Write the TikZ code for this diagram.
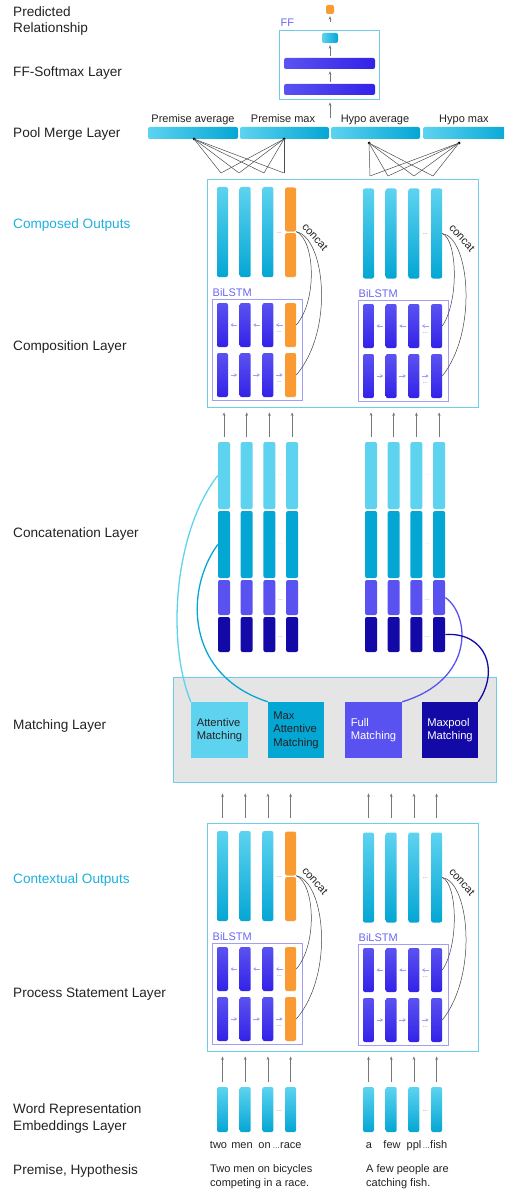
\documentclass[tikz,border=0pt]{standalone}
\usepackage{fontspec}
\setmainfont{Liberation Sans}
\usetikzlibrary{arrows.meta,calc}
\definecolor{cyL}{HTML}{5DD3F0}
\definecolor{cyD}{HTML}{04A6D4}
\definecolor{puL}{HTML}{5A52F0}
\definecolor{puD}{HTML}{3322E8}
\definecolor{navyc}{HTML}{1209A6}
\definecolor{orgc}{HTML}{F99A33}
\definecolor{boxc}{HTML}{6FCDE8}
\definecolor{lstmc}{HTML}{A29EF5}
\definecolor{labc}{HTML}{6A66F0}
\definecolor{outc}{HTML}{1EB0DE}
\definecolor{grayfill}{HTML}{E5E5E5}
\definecolor{txtc}{HTML}{222222}
\definecolor{arrc}{HTML}{777777}
\definecolor{dotc}{HTML}{8A8A8A}
\definecolor{dotcy}{HTML}{B5ECF9}
\definecolor{dotpu}{HTML}{A29EF5}

\tikzset{
  layerlab/.style={anchor=base west, inner sep=0pt, font=\fontsize{13.6}{16}\selectfont, text=txtc},
  smalltxt/.style={inner sep=0pt, font=\fontsize{11}{14}\selectfont, text=txtc},
  colv/.style={rectangle, rounded corners=2pt, minimum width=11pt, minimum height=90pt, inner sep=0pt, top color=cyL, bottom color=cyD, draw=none},
  colo/.style={rectangle, rounded corners=2pt, minimum width=11pt, minimum height=44pt, inner sep=0pt, fill=orgc},
  lstm/.style={rectangle, rounded corners=2pt, minimum width=11pt, minimum height=44pt, inner sep=0pt, top color=puL, bottom color=puD},
  lstmo/.style={rectangle, rounded corners=2pt, minimum width=11pt, minimum height=44pt, inner sep=0pt, fill=orgc},
  outbox/.style={draw=boxc, line width=0.8pt, rectangle, inner sep=0pt},
  lstmbox/.style={draw=lstmc, line width=0.8pt, rectangle, inner sep=0pt},
  arrowg/.style={draw=arrc, line width=0.6pt, -{Stealth[length=3.5pt,width=2.8pt]}},
  lstmarr/.style={draw=lstmc, line width=0.9pt, -{Stealth[length=3pt,width=3.6pt]}},
  concatline/.style={draw=black!75, line width=0.5pt},
  dotlab/.style={inner sep=0pt, font=\fontsize{6.5}{6.5}\selectfont, text=dotc},
  seg/.style={rectangle, rounded corners=2pt, minimum width=12pt, inner sep=0pt},
  matchbox/.style={rectangle, minimum width=57pt, minimum height=56pt, inner sep=0pt, align=left, font=\fontsize{11.2}{13.5}\selectfont},
  fanline/.style={draw=black!70, line width=0.5pt},
  fandot/.style={circle, fill=black, inner sep=0pt, minimum size=3pt},
  poolbar/.style={rectangle, rounded corners=2pt, minimum height=12pt, inner sep=0pt, left color=cyL, right color=cyD},
}

\newcommand\encblock[2]{%
  \node[outbox, minimum width=271pt, minimum height=228pt] (#2box) at (342.5,293+#1) {};
  \foreach \i in {0,1,2}{
    \node[colv] (#2l\i) at (222.5+22.7*\i, 232+#1) {};
  }
  \node[colo] (#2la) at (290.6, 209.5+#1) {};
  \node[colo] (#2lb) at (290.6, 255+#1) {};
  \foreach \i in {0,1,2,3}{
    \node[colv] (#2r\i) at (368.5+22.7*\i, 233.5+#1) {};
  }
  \node[dotlab] at (279.25, 233+#1) {...};
  \node[dotlab] at (425.25, 234+#1) {...};
  % BiLSTM boxes
  \node[lstmbox, minimum width=90pt, minimum height=101pt] (#2lbox) at (257, 349.5+#1) {};
  \node[lstmbox, minimum width=90pt, minimum height=101pt] (#2rbox) at (403, 350.5+#1) {};
  \node[anchor=base west, inner sep=0pt, font=\fontsize{11}{13}\selectfont, text=labc] at (212.5, 296+#1) {BiLSTM};
  \node[anchor=base west, inner sep=0pt, font=\fontsize{11}{13}\selectfont, text=labc] at (358.5, 297+#1) {BiLSTM};
  \foreach \i in {0,1,2}{
    \node[lstm] (#2tl\i) at (222.5+22.7*\i, 325+#1) {};
    \node[lstm] (#2bl\i) at (222.5+22.7*\i, 375+#1) {};
  }
  \node[lstmo] (#2tl3) at (290.6, 325+#1) {};
  \node[lstmo] (#2bl3) at (290.6, 375+#1) {};
  \foreach \i in {0,1,2,3}{
    \node[lstm] (#2tr\i) at (368.5+22.7*\i, 326+#1) {};
    \node[lstm] (#2br\i) at (368.5+22.7*\i, 376+#1) {};
  }
  \foreach \i/\k in {0/1,1/2,2/3}{
    \draw[lstmarr, shorten <=2.3pt, shorten >=2.3pt] (#2tl\k.west) -- (#2tl\i.east);
    \draw[lstmarr, shorten <=2.3pt, shorten >=2.3pt] (#2bl\i.east) -- (#2bl\k.west);
    \draw[lstmarr, shorten <=2.3pt, shorten >=2.3pt] (#2tr\k.west) -- (#2tr\i.east);
    \draw[lstmarr, shorten <=2.3pt, shorten >=2.3pt] (#2br\i.east) -- (#2br\k.west);
  }
  \node[dotlab] at (279.25, 332+#1) {...};
  \node[dotlab] at (279.25, 382+#1) {...};
  \node[dotlab] at (425.25, 333+#1) {...};
  \node[dotlab] at (425.25, 383+#1) {...};
  % concat curves
  \draw[concatline] (#2la.south east) .. controls +(18.5,8) and +(21.5,-25) .. (#2tl3.east);
  \draw[concatline] (#2la.south east) .. controls +(28.5,6) and +(38.5,-45) .. (#2bl3.east);
  \draw[concatline] (#2r3.east) .. controls +(15,6) and +(17,-25) .. (#2tr3.east);
  \draw[concatline] (#2r3.east) .. controls +(27,4) and +(36,-45) .. (#2br3.east);
  \node[smalltxt, rotate=-48] at (315, 237+#1) {concat};
  \node[smalltxt, rotate=-48] at (462, 238+#1) {concat};
}

\begin{document}
\begin{tikzpicture}[x=1pt,y=-1pt]
\useasboundingbox (0,0) rectangle (504,1193);
\clip (0,0) rectangle (504,1193);

% ---------- left labels ----------
\node[anchor=north west, inner sep=0pt, align=left, font=\fontsize{13.6}{16}\selectfont, text=txtc] (lPred) at (13,6.3) {Predicted\\Relationship};
\node[layerlab] (lFF) at (13,76.8) {FF-Softmax Layer};
\node[layerlab] (lPool) at (13,137.8) {Pool Merge Layer};
\node[layerlab, text=outc] (lComp) at (13,228.8) {Composed Outputs};
\node[layerlab] (lCompL) at (13,350.8) {Composition Layer};
\node[layerlab] (lConc) at (13,537.8) {Concatenation Layer};
\node[layerlab] (lMatch) at (13,729.8) {Matching Layer};
\node[layerlab, text=outc] (lCtx) at (13,883.8) {Contextual Outputs};
\node[layerlab] (lProc) at (13,997.8) {Process Statement Layer};
\node[anchor=north west, inner sep=0pt, align=left, font=\fontsize{13.6}{17}\selectfont, text=txtc] (lWord) at (13,1103.3) {Word Representation\\Embeddings Layer};
\node[layerlab] (lPH) at (13,1174.8) {Premise, Hypothesis};

% ---------- FF softmax ----------
\node[outbox, minimum width=100pt, minimum height=69pt] (ffbox) at (329,64.5) {};
\node[anchor=base west, inner sep=0pt, font=\fontsize{11}{13}\selectfont, text=labc] (fflab) at (280.5,27) {FF};
\node[rectangle, rounded corners=2pt, minimum width=8pt, minimum height=9pt, inner sep=0pt, fill=orgc] (pred) at (330,9.5) {};
\node[rectangle, rounded corners=2pt, minimum width=16pt, minimum height=10pt, inner sep=0pt, left color=cyL, right color=cyD] (soft) at (330,38) {};
\node[rectangle, rounded corners=2pt, minimum width=91pt, minimum height=11pt, inner sep=0pt, left color=puL, right color=puD] (ff1) at (329.5,63.5) {};
\node[rectangle, rounded corners=2pt, minimum width=91pt, minimum height=11pt, inner sep=0pt, left color=puL, right color=puD] (ff2) at (329.5,89.5) {};
\draw[arrowg, shorten <=11pt, shorten >=2pt] (soft.north) -- (pred.south);
\draw[arrowg, shorten <=2pt, shorten >=2pt] (ff1.north -| soft.north) -- (soft.south);
\draw[arrowg, shorten <=2pt, shorten >=2pt] (ff2.north -| soft.north) -- (ff1.south -| soft.north);

% ---------- pool merge ----------
\node[poolbar, minimum width=90pt] (pavg) at (193,133) {};
\node[poolbar, minimum width=89pt] (pmax) at (284.5,133) {};
\node[poolbar, minimum width=89pt] (havg) at (375.5,133) {};
\node[poolbar, minimum width=89pt] (hmax) at (467.5,133) {};
\node[smalltxt, anchor=base] at (193,123) {Premise average};
\node[smalltxt, anchor=base] at (283,123) {Premise max};
\node[smalltxt, anchor=base] at (375,123) {Hypo average};
\node[smalltxt, anchor=base] at (464,123) {Hypo max};
\coordinate (poolup) at (330,118);
\draw[arrowg, shorten >=3pt] (poolup) -- (ffbox.south -| poolup);

\node[fandot] (dpa) at (194,139) {};
\node[fandot] (dpm) at (284,139) {};
\node[fandot] (dha) at (369,143) {};
\node[fandot] (dhm) at (459,143) {};
\coordinate (fl0) at (221,173);
\coordinate (fl1) at (239,173);
\coordinate (fl2) at (264,173);
\coordinate (fl3) at (284,173);
\coordinate (fr0) at (370,176);
\coordinate (fr1) at (388,176);
\coordinate (fr2) at (414,176);
\coordinate (fr3) at (433,176);
\foreach \b in {fl0,fl1,fl2,fl3}{
  \draw[fanline] (dpa.center) -- (\b);
  \draw[fanline] (dpm.center) -- (\b);
}
\foreach \b in {fr0,fr1,fr2,fr3}{
  \draw[fanline] (dha.center) -- (\b);
  \draw[fanline] (dhm.center) -- (\b);
}

% ---------- composition & contextual blocks ----------
\encblock{0}{cp}
\encblock{644}{cx}

% ---------- concatenation layer ----------
\foreach \i in {0,1,2,3}{
  \node[seg, minimum height=67pt, fill=cyL] (cla\i) at (224+22.7*\i,475.5) {};
  \node[seg, minimum height=67pt, fill=cyD] (clb\i) at (224+22.7*\i,544.5) {};
  \node[seg, minimum height=35pt, fill=puL] (clc\i) at (224+22.7*\i,597.5) {};
  \node[seg, minimum height=35pt, fill=navyc] (cld\i) at (224+22.7*\i,634.5) {};
  \node[seg, minimum height=67pt, fill=cyL] (cra\i) at (371+22.7*\i,475.5) {};
  \node[seg, minimum height=67pt, fill=cyD] (crb\i) at (371+22.7*\i,544.5) {};
  \node[seg, minimum height=35pt, fill=puL] (crc\i) at (371+22.7*\i,597.5) {};
  \node[seg, minimum height=35pt, fill=navyc] (crd\i) at (371+22.7*\i,634.5) {};
  \draw[arrowg, shorten <=5pt, shorten >=5pt] (cla\i.north) -- (cla\i.north |- cpbox.south);
  \draw[arrowg, shorten <=5pt, shorten >=5pt] (cra\i.north) -- (cra\i.north |- cpbox.south);
}
\foreach \x in {280.3,427.3}{
  \node[dotlab, text=dotcy] at (\x,475) {...};
  \node[dotlab, text=dotcy] at (\x,544) {...};
  \node[dotlab, text=dotpu] at (\x,600) {...};
  \node[dotlab, text=dotpu] at (\x,637) {...};
}

% ---------- matching layer ----------
\node[rectangle, draw=boxc, line width=0.8pt, fill=grayfill, minimum width=323pt, minimum height=105pt, inner sep=0pt] (matchlayer) at (334.5,729.5) {};
\node[matchbox, fill=cyL, text=txtc] (mAtt) at (219.5,730) {Attentive\\Matching};
\node[matchbox, fill=cyD, text=txtc, minimum width=56pt] (mMax) at (296,730) {Max\\Attentive\\Matching};
\node[matchbox, fill=puL, text=white] (mFull) at (373.5,730) {Full\\Matching};
\node[matchbox, fill=navyc, text=white, minimum width=56pt] (mPool) at (450,730) {Maxpool\\Matching};

\draw[cyL, line width=1.3pt] (cla0.west) .. controls +(-43,55) and +(-25,-62) .. (mAtt.north west);
\draw[cyD, line width=1.3pt] (clb0.west) .. controls +(-33,45) and +(-83,-27) .. (mMax.north west);
\draw[puL, line width=1.3pt] (crc3.east) .. controls +(25,17.5) and +(73,-22) .. (mFull.north east);
\draw[navyc, line width=1.3pt] (crd3.east) .. controls +(40,-2.5) and +(22,-32) .. (mPool.north east);

% arrows matching -> contextual
\foreach \i in {0,1,2,3}{
  \draw[arrowg, shorten <=5pt, shorten >=11pt] (cxr\i.north |- cxbox.north) -- (cxr\i.north |- matchlayer.south);
}
\foreach \i in {0,1,2}{
  \draw[arrowg, shorten <=5pt, shorten >=11pt] (cxl\i.north |- cxbox.north) -- (cxl\i.north |- matchlayer.south);
}
\draw[arrowg, shorten <=5pt, shorten >=11pt] (cxla.north |- cxbox.north) -- (cxla.north |- matchlayer.south);

% ---------- word embeddings ----------
\foreach \i in {0,1,2,3}{
  \node[colv, minimum height=45pt] (wl\i) at (222.5+22.7*\i,1109.5) {};
  \node[colv, minimum height=45pt] (wr\i) at (368.5+22.7*\i,1109.5) {};
  \draw[arrowg, shorten <=5pt, shorten >=5pt] (wl\i.north) -- (wl\i.north |- cxbox.south);
  \draw[arrowg, shorten <=5pt, shorten >=5pt] (wr\i.north) -- (wr\i.north |- cxbox.south);
}
\node[dotlab] at (279.25,1111) {...};
\node[dotlab] at (425.25,1111) {...};

\node[smalltxt, anchor=base] (w1) at (218.5,1148) {two};
\node[smalltxt, anchor=base] (w2) at (242,1148) {men};
\node[smalltxt, anchor=base] (w3) at (264.5,1148) {on};
\node[smalltxt, anchor=base west] (w4) at (272.5,1148) {{\fontsize{7.5}{8}\selectfont …}race};
\node[smalltxt, anchor=base] (w5) at (369,1148) {a};
\node[smalltxt, anchor=base] (w6) at (392,1148) {few};
\node[smalltxt, anchor=base] (w7) at (414,1148) {ppl};
\node[smalltxt, anchor=base west] (w8) at (422.5,1148) {{\fontsize{7.5}{8}\selectfont …}fish};

\node[smalltxt, anchor=north west, align=left] (sPrem) at (210,1164) {Two men on bicycles\\competing in a race.};
\node[smalltxt, anchor=north west, align=left] (sHyp) at (366,1164) {A few people are\\catching fish.};
\end{tikzpicture}
\end{document}
